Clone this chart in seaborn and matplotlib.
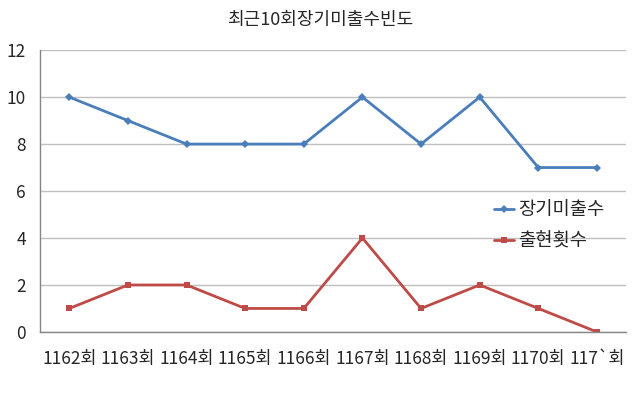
import pandas as pd
import numpy as np
import matplotlib
matplotlib.use("Agg")
import matplotlib.pyplot as plt
import seaborn as sns

rounds = ['1162회', '1163회', '1164회', '1165회', '1166회',
          '1167회', '1168회', '1169회', '1170회', '117`회']
missing = [10, 9, 8, 8, 8, 10, 8, 10, 7, 7]      # 장기미출수
appear = [1, 2, 2, 1, 1, 4, 1, 2, 1, 0]          # 출현횟수

sns.set_style("white")
plt.rcParams['font.family'] = ['Noto Sans CJK KR', 'DejaVu Sans']

df = pd.DataFrame({'pos': np.arange(len(rounds)), 'round': rounds,
                   '장기미출수': missing, '출현횟수': appear})

fig = plt.figure(figsize=(6.4, 3.98), dpi=100)
ax = fig.add_axes([0.0625, 0.166, 0.916, 0.708])

sns.lineplot(data=df, x='pos', y='장기미출수', ax=ax, color='#4A7EBB',
             marker='D', markersize=4, markeredgewidth=0, linewidth=2,
             label='장기미출수')
sns.lineplot(data=df, x='pos', y='출현횟수', ax=ax, color='#BE4B48',
             marker='s', markersize=5, markeredgewidth=0, linewidth=2,
             label='출현횟수')

ax.set_xlim(-0.5, len(rounds) - 0.5)
ax.set_ylim(0, 12)
ax.set_yticks(range(0, 13, 2))
ax.set_xticks(df['pos'])
ax.set_xticklabels(rounds, fontsize=12.5)
ax.set_xticks(np.arange(-0.5, len(rounds), 1), minor=True)
ax.tick_params(axis='x', which='major', length=0, pad=13)
ax.tick_params(axis='x', which='minor', length=5, color='#868686', width=1)
ax.tick_params(axis='y', length=5, color='#868686', width=1, labelsize=12.5, pad=5)
ax.set_xlabel('')
ax.set_ylabel('')

ax.grid(axis='y', color='#BFBFBF', linewidth=1)
ax.set_axisbelow(True)
for s in ['top', 'right']:
    ax.spines[s].set_visible(False)
for s in ['left', 'bottom']:
    ax.spines[s].set_color('#868686')
    ax.spines[s].set_linewidth(1)

ax.legend(loc='center left', bbox_to_anchor=(0.745, 0.378), frameon=False,
          fontsize=13.5, handlelength=1.1, handletextpad=0.2, labelspacing=0.55)

fig.suptitle('최근10회장기미출수빈도', x=0.5, y=0.972, fontsize=13)

fig.savefig('out.png', dpi=100)
